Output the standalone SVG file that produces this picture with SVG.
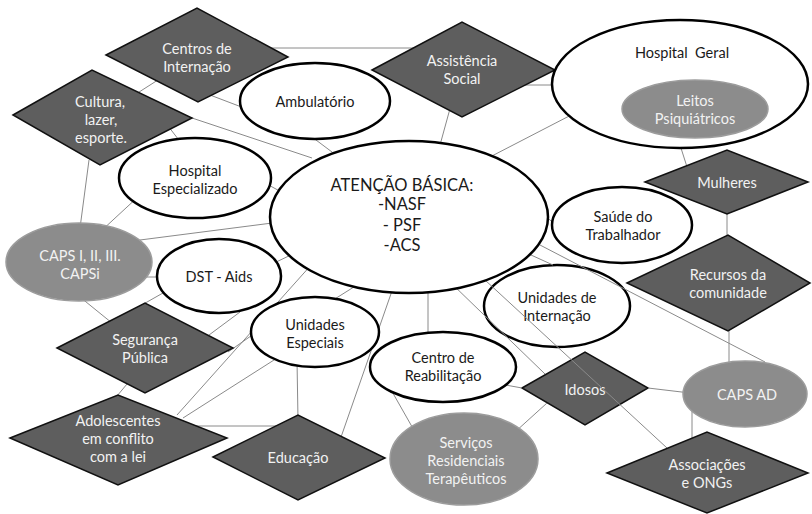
<svg xmlns="http://www.w3.org/2000/svg" width="812" height="514" viewBox="0 0 812 514">
<style>
.ln{stroke:#8a8a8a;stroke-width:1;fill:none}
.dia{fill:#5e5e5e;stroke:#111;stroke-width:1.5;stroke-linejoin:miter}
.wel{fill:#fff;stroke:#000;stroke-width:2.5}
.gel{fill:#8c8c8c;stroke:#9c9c9c;stroke-width:1.5}
text{font-family:Lato,"Open Sans","Liberation Sans",sans-serif;font-size:14.5px;text-anchor:middle}
.td{fill:#f2f2f2}
.tw{fill:#1a1a1a}
.big{font-size:16.5px}
</style>
<rect width="812" height="514" fill="#fff"/>
<g id="n-unidades-internacao"><ellipse class="wel" cx="557" cy="306" rx="73" ry="41"/><text class="tw" x="557" y="303">Unidades de</text><text class="tw" x="557" y="321">Internação</text></g>
<g id="n-idosos"><polygon class="dia" points="522,388 585,352 648,388 585,425"/><text class="td" x="585" y="395">Idosos</text></g>
<g id="connectors">
<line class="ln" x1="250" y1="48" x2="430" y2="48"/>
<line class="ln" x1="197" y1="55" x2="100" y2="117"/>
<line class="ln" x1="210" y1="95" x2="252" y2="111"/>
<line class="ln" x1="192" y1="118" x2="312" y2="158"/>
<line class="ln" x1="165" y1="122" x2="185" y2="148"/>
<line class="ln" x1="89" y1="160" x2="80" y2="228"/>
<line class="ln" x1="308" y1="134" x2="332" y2="152"/>
<line class="ln" x1="451" y1="105" x2="440" y2="145"/>
<line class="ln" x1="520" y1="85" x2="560" y2="85"/>
<line class="ln" x1="488" y1="158" x2="575" y2="113"/>
<line class="ln" x1="680" y1="145" x2="688" y2="170"/>
<line class="ln" x1="727" y1="205" x2="727" y2="240"/>
<line class="ln" x1="729" y1="325" x2="729" y2="365"/>
<line class="ln" x1="100" y1="232" x2="140" y2="195"/>
<line class="ln" x1="265" y1="183" x2="285" y2="194"/>
<line class="ln" x1="140" y1="240" x2="280" y2="222"/>
<line class="ln" x1="145" y1="277" x2="165" y2="277"/>
<line class="ln" x1="75" y1="293" x2="112" y2="323"/>
<line class="ln" x1="140" y1="306" x2="170" y2="289"/>
<line class="ln" x1="272" y1="264" x2="295" y2="253"/>
<line class="ln" x1="205" y1="338" x2="240" y2="312"/>
<line class="ln" x1="228" y1="352" x2="258" y2="331"/>
<line class="ln" x1="112" y1="402" x2="132" y2="378"/>
<line class="ln" x1="177" y1="415" x2="312" y2="264"/>
<line class="ln" x1="183" y1="418" x2="285" y2="353"/>
<line class="ln" x1="190" y1="426" x2="282" y2="426"/>
<line class="ln" x1="297" y1="360" x2="298" y2="420"/>
<line class="ln" x1="340" y1="440" x2="393" y2="288"/>
<line class="ln" x1="330" y1="302" x2="357" y2="285"/>
<line class="ln" x1="428" y1="288" x2="428" y2="338"/>
<line class="ln" x1="390" y1="388" x2="415" y2="432"/>
<line class="ln" x1="515" y1="432" x2="547" y2="403"/>
<line class="ln" x1="500" y1="384" x2="522" y2="388"/>
<line class="ln" x1="450" y1="282" x2="545" y2="374"/>
<line class="ln" x1="485" y1="280" x2="667" y2="448"/>
<line class="ln" x1="520" y1="250" x2="553" y2="265"/>
<line class="ln" x1="540" y1="245" x2="765" y2="362"/>
<line class="ln" x1="535" y1="208" x2="560" y2="228"/>
<line class="ln" x1="648" y1="388" x2="690" y2="393"/>
<line class="ln" x1="692" y1="405" x2="692" y2="440"/>
</g>
<g id="n-centros"><polygon class="dia" points="106,55 197,8 288,57 198,102"/><text class="td" x="197" y="54">Centros de</text><text class="td" x="197" y="72">Internação</text></g>
<g id="n-cultura"><polygon class="dia" points="13,115 92,70 192,118 100,165"/><text class="td" x="100" y="107">Cultura,</text><text class="td" x="101" y="125">lazer,</text><text class="td" x="101" y="143">esporte.</text></g>
<g id="n-assistencia"><polygon class="dia" points="372,70 462,22 555,70 462,117"/><text class="td" x="462" y="66">Assistência</text><text class="td" x="462" y="84">Social</text></g>
<g id="n-ambulatorio"><ellipse class="wel" cx="315" cy="101" rx="75" ry="38"/><text class="tw" x="315" y="107">Ambulatório</text></g>
<g id="n-hospital-geral"><ellipse class="wel" cx="680" cy="84" rx="128" ry="64"/><text class="tw" x="682" y="58">Hospital&#160; Geral</text></g>
<g id="n-leitos"><ellipse class="gel" cx="695" cy="109" rx="73" ry="29"/><text class="td" x="695" y="106">Leitos</text><text class="td" x="695" y="124">Psiquiátricos</text></g>
<g id="n-hospital-especializado"><ellipse class="wel" cx="195" cy="178" rx="76" ry="40"/><text class="tw" x="195" y="176">Hospital</text><text class="tw" x="195" y="194">Especializado</text></g>
<g id="n-atencao"><ellipse class="wel" cx="409" cy="217" rx="139" ry="76"/><text class="tw big" x="402" y="191">ATENÇÃO BÁSICA:</text><text class="tw big" x="402" y="210">-NASF</text><text class="tw big" x="402" y="231">- PSF</text><text class="tw big" x="402" y="251">-ACS</text></g>
<g id="n-mulheres"><polygon class="dia" points="645,182 727,150 808,182 727,214"/><text class="td" x="727" y="188">Mulheres</text></g>
<g id="n-saude"><ellipse class="wel" cx="622" cy="225" rx="70" ry="38"/><text class="tw" x="623" y="222">Saúde do</text><text class="tw" x="623" y="240">Trabalhador</text></g>
<g id="n-recursos"><polygon class="dia" points="627,283 728,235 810,283 728,331"/><text class="td" x="728" y="280">Recursos da</text><text class="td" x="728" y="298">comunidade</text></g>
<g id="n-caps"><ellipse class="gel" cx="79" cy="262" rx="73" ry="39"/><text class="td" x="80" y="261">CAPS I, II, III.</text><text class="td" x="80" y="279">CAPSi</text></g>
<g id="n-dst"><ellipse class="wel" cx="219" cy="276" rx="62" ry="37"/><text class="tw" x="219" y="282">DST - Aids</text></g>
<g id="n-seguranca"><polygon class="dia" points="57,348 145,303 233,348 145,393"/><text class="td" x="145" y="345">Segurança</text><text class="td" x="145" y="363">Pública</text></g>
<g id="n-unidades-especiais"><ellipse class="wel" cx="315" cy="332" rx="64" ry="35"/><text class="tw" x="315" y="330">Unidades</text><text class="tw" x="315" y="348">Especiais</text></g>
<g id="n-centro-reab"><ellipse class="wel" cx="443" cy="367" rx="73" ry="35"/><text class="tw" x="443" y="363">Centro de</text><text class="tw" x="443" y="381">Reabilitação</text></g>
<g id="n-caps-ad"><ellipse class="gel" cx="745" cy="394" rx="62" ry="33"/><text class="td" x="747" y="400">CAPS AD</text></g>
<g id="n-adolescentes"><polygon class="dia" points="10,438 118,395 227,438 118,485"/><text class="td" x="118" y="426">Adolescentes</text><text class="td" x="118" y="444">em conflito</text><text class="td" x="118" y="462">com a lei</text></g>
<g id="n-educacao"><polygon class="dia" points="213,457 298,415 385,458 298,500"/><text class="td" x="298" y="463">Educação</text></g>
<g id="n-servicos"><ellipse class="gel" cx="464" cy="459" rx="74" ry="46"/><text class="td" x="466" y="448">Serviços</text><text class="td" x="466" y="466">Residenciais</text><text class="td" x="466" y="484">Terapêuticos</text></g>
<g id="n-associacoes"><polygon class="dia" points="607,473 707,432 808,473 707,513"/><text class="td" x="707" y="470">Associações</text><text class="td" x="707" y="488">e ONGs</text></g>
</svg>
